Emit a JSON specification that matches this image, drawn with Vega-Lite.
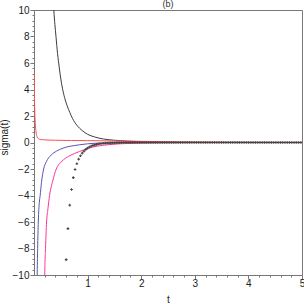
{
  "$schema": "https://vega.github.io/schema/vega-lite/v6.json",
  "width": 268,
  "height": 265,
  "autosize": "none",
  "padding": {"left": 34, "top": 10, "right": 2, "bottom": 29},
  "config": {"view": {"stroke": "#777", "strokeWidth": 1}, "font": "Liberation Sans"},
  "title": {"text": "(b)", "fontSize": 9, "fontWeight": "normal", "color": "#333", "offset": -11, "anchor": "middle", "baseline": "alphabetic"},
  "datasets": {
    "curves": [
      {"s": "A", "t": 0.35, "y": 11.8}, {"s": "A", "t": 0.37, "y": 10}, {"s": "A", "t": 0.39, "y": 8.9}, {"s": "A", "t": 0.41, "y": 8},
      {"s": "A", "t": 0.44, "y": 6.7}, {"s": "A", "t": 0.47, "y": 5.7}, {"s": "A", "t": 0.5, "y": 4.8}, {"s": "A", "t": 0.53, "y": 4.1},
      {"s": "A", "t": 0.57, "y": 3.4}, {"s": "A", "t": 0.62, "y": 2.75}, {"s": "A", "t": 0.67, "y": 2.25}, {"s": "A", "t": 0.72, "y": 1.8},
      {"s": "A", "t": 0.8, "y": 1.3}, {"s": "A", "t": 0.9, "y": 0.9}, {"s": "A", "t": 1.0, "y": 0.62}, {"s": "A", "t": 1.13, "y": 0.42},
      {"s": "A", "t": 1.3, "y": 0.26}, {"s": "A", "t": 1.5, "y": 0.17}, {"s": "A", "t": 1.75, "y": 0.1}, {"s": "A", "t": 2.0, "y": 0.06},
      {"s": "A", "t": 2.5, "y": 0.02}, {"s": "A", "t": 3.0, "y": 0.005}, {"s": "A", "t": 5.0, "y": 0},
      {"s": "B", "t": 0.004, "y": 5.2}, {"s": "B", "t": 0.007, "y": 4.0}, {"s": "B", "t": 0.01, "y": 3.2}, {"s": "B", "t": 0.014, "y": 2.5},
      {"s": "B", "t": 0.02, "y": 1.8}, {"s": "B", "t": 0.027, "y": 1.3}, {"s": "B", "t": 0.035, "y": 0.9}, {"s": "B", "t": 0.045, "y": 0.6},
      {"s": "B", "t": 0.06, "y": 0.4}, {"s": "B", "t": 0.08, "y": 0.3}, {"s": "B", "t": 0.12, "y": 0.23}, {"s": "B", "t": 0.2, "y": 0.2},
      {"s": "B", "t": 0.4, "y": 0.17}, {"s": "B", "t": 0.7, "y": 0.15}, {"s": "B", "t": 1.0, "y": 0.14}, {"s": "B", "t": 1.5, "y": 0.12},
      {"s": "B", "t": 2.0, "y": 0.09}, {"s": "B", "t": 2.5, "y": 0.06}, {"s": "B", "t": 3.0, "y": 0.04}, {"s": "B", "t": 4.0, "y": 0.02},
      {"s": "B", "t": 5.0, "y": 0.01},
      {"s": "C", "t": 0.058, "y": -11}, {"s": "C", "t": 0.06, "y": -10}, {"s": "C", "t": 0.068, "y": -8}, {"s": "C", "t": 0.08, "y": -6},
      {"s": "C", "t": 0.1, "y": -4.5}, {"s": "C", "t": 0.115, "y": -4}, {"s": "C", "t": 0.14, "y": -3}, {"s": "C", "t": 0.18, "y": -2},
      {"s": "C", "t": 0.23, "y": -1.45}, {"s": "C", "t": 0.32, "y": -0.95}, {"s": "C", "t": 0.42, "y": -0.65}, {"s": "C", "t": 0.54, "y": -0.43},
      {"s": "C", "t": 0.65, "y": -0.3}, {"s": "C", "t": 0.76, "y": -0.23}, {"s": "C", "t": 0.85, "y": -0.17}, {"s": "C", "t": 1.0, "y": -0.1},
      {"s": "C", "t": 1.13, "y": -0.06}, {"s": "C", "t": 1.4, "y": -0.03}, {"s": "C", "t": 2.0, "y": -0.01}, {"s": "C", "t": 3.0, "y": 0},
      {"s": "C", "t": 5.0, "y": 0},
      {"s": "D", "t": 0.198, "y": -11}, {"s": "D", "t": 0.2, "y": -10}, {"s": "D", "t": 0.215, "y": -8}, {"s": "D", "t": 0.235, "y": -6},
      {"s": "D", "t": 0.26, "y": -5}, {"s": "D", "t": 0.29, "y": -4}, {"s": "D", "t": 0.35, "y": -2.9}, {"s": "D", "t": 0.415, "y": -2},
      {"s": "D", "t": 0.5, "y": -1.5}, {"s": "D", "t": 0.6, "y": -1.15}, {"s": "D", "t": 0.69, "y": -0.95}, {"s": "D", "t": 0.76, "y": -0.82},
      {"s": "D", "t": 0.85, "y": -0.68}, {"s": "D", "t": 1.0, "y": -0.45}, {"s": "D", "t": 1.2, "y": -0.26}, {"s": "D", "t": 1.38, "y": -0.17},
      {"s": "D", "t": 1.6, "y": -0.1}, {"s": "D", "t": 1.9, "y": -0.05}, {"s": "D", "t": 2.25, "y": -0.02}, {"s": "D", "t": 3.0, "y": 0},
      {"s": "D", "t": 5.0, "y": 0}
    ],
    "dots": [
      {"t": 0.6, "y": -8.84}, {"t": 0.633, "y": -6.5}, {"t": 0.667, "y": -4.73}, {"t": 0.7, "y": -3.55}, {"t": 0.733, "y": -2.65},
      {"t": 0.767, "y": -2.04}, {"t": 0.8, "y": -1.6}, {"t": 0.833, "y": -1.26}, {"t": 0.867, "y": -1.0}, {"t": 0.9, "y": -0.8},
      {"t": 0.933, "y": -0.65}, {"t": 0.967, "y": -0.52}, {"t": 1.0, "y": -0.42}, {"t": 1.033, "y": -0.34}, {"t": 1.067, "y": -0.27},
      {"t": 1.1, "y": -0.22}, {"t": 1.133, "y": -0.18}, {"t": 1.167, "y": -0.14}, {"t": 1.2, "y": -0.11}, {"t": 1.233, "y": -0.09},
      {"t": 1.267, "y": -0.075}, {"t": 1.3, "y": -0.06}, {"t": 1.333, "y": -0.05}, {"t": 1.367, "y": -0.04}, {"t": 1.4, "y": -0.033},
      {"t": 1.433, "y": -0.027}, {"t": 1.467, "y": -0.022}, {"t": 1.5, "y": -0.018}, {"t": 1.533, "y": -0.014}, {"t": 1.567, "y": -0.011},
      {"t": 1.6, "y": -0.009}, {"t": 1.633, "y": 0}, {"t": 1.667, "y": 0}, {"t": 1.7, "y": 0}, {"t": 1.733, "y": 0},
      {"t": 1.767, "y": 0}, {"t": 1.8, "y": 0}, {"t": 1.833, "y": 0}, {"t": 1.867, "y": 0}, {"t": 1.9, "y": 0},
      {"t": 1.933, "y": 0}, {"t": 1.967, "y": 0}, {"t": 2.0, "y": 0}, {"t": 2.033, "y": 0}, {"t": 2.067, "y": 0},
      {"t": 2.1, "y": 0}, {"t": 2.133, "y": 0}, {"t": 2.167, "y": 0}, {"t": 2.2, "y": 0}, {"t": 2.233, "y": 0},
      {"t": 2.267, "y": 0}, {"t": 2.3, "y": 0}, {"t": 2.333, "y": 0}, {"t": 2.367, "y": 0}, {"t": 2.4, "y": 0},
      {"t": 2.433, "y": 0}, {"t": 2.467, "y": 0}, {"t": 2.5, "y": 0}, {"t": 2.533, "y": 0}, {"t": 2.567, "y": 0},
      {"t": 2.6, "y": 0}, {"t": 2.633, "y": 0}, {"t": 2.667, "y": 0}, {"t": 2.7, "y": 0}, {"t": 2.733, "y": 0},
      {"t": 2.767, "y": 0}, {"t": 2.8, "y": 0}, {"t": 2.833, "y": 0}, {"t": 2.867, "y": 0}, {"t": 2.9, "y": 0},
      {"t": 2.933, "y": 0}, {"t": 2.967, "y": 0}, {"t": 3.0, "y": 0}, {"t": 3.033, "y": 0}, {"t": 3.067, "y": 0},
      {"t": 3.1, "y": 0}, {"t": 3.133, "y": 0}, {"t": 3.167, "y": 0}, {"t": 3.2, "y": 0}, {"t": 3.233, "y": 0},
      {"t": 3.267, "y": 0}, {"t": 3.3, "y": 0}, {"t": 3.333, "y": 0}, {"t": 3.367, "y": 0}, {"t": 3.4, "y": 0},
      {"t": 3.433, "y": 0}, {"t": 3.467, "y": 0}, {"t": 3.5, "y": 0}, {"t": 3.533, "y": 0}, {"t": 3.567, "y": 0},
      {"t": 3.6, "y": 0}, {"t": 3.633, "y": 0}, {"t": 3.667, "y": 0}, {"t": 3.7, "y": 0}, {"t": 3.733, "y": 0},
      {"t": 3.767, "y": 0}, {"t": 3.8, "y": 0}, {"t": 3.833, "y": 0}, {"t": 3.867, "y": 0}, {"t": 3.9, "y": 0},
      {"t": 3.933, "y": 0}, {"t": 3.967, "y": 0}, {"t": 4.0, "y": 0}, {"t": 4.033, "y": 0}, {"t": 4.067, "y": 0},
      {"t": 4.1, "y": 0}, {"t": 4.133, "y": 0}, {"t": 4.167, "y": 0}, {"t": 4.2, "y": 0}, {"t": 4.233, "y": 0},
      {"t": 4.267, "y": 0}, {"t": 4.3, "y": 0}, {"t": 4.333, "y": 0}, {"t": 4.367, "y": 0}, {"t": 4.4, "y": 0},
      {"t": 4.433, "y": 0}, {"t": 4.467, "y": 0}, {"t": 4.5, "y": 0}, {"t": 4.533, "y": 0}, {"t": 4.567, "y": 0},
      {"t": 4.6, "y": 0}, {"t": 4.633, "y": 0}, {"t": 4.667, "y": 0}, {"t": 4.7, "y": 0}, {"t": 4.733, "y": 0},
      {"t": 4.767, "y": 0}, {"t": 4.8, "y": 0}, {"t": 4.833, "y": 0}, {"t": 4.867, "y": 0}, {"t": 4.9, "y": 0},
      {"t": 4.933, "y": 0}, {"t": 4.967, "y": 0}, {"t": 5.0, "y": 0}
    ]
  },
  "resolve": {"axis": {"x": "independent", "y": "independent"}},
  "layer": [
    {
      "data": {"name": "curves"},
      "mark": {"type": "line", "strokeWidth": 1, "clip": true, "interpolate": "monotone"},
      "encoding": {
        "x": {
          "field": "t", "type": "quantitative",
          "scale": {"domain": [0, 5], "nice": false, "zero": false},
          "axis": {
            "orient": "bottom",
            "values": [1, 2, 3, 4, 5],
            "format": "d",
            "tickSize": 4,
            "grid": false, "domainColor": "#777", "tickColor": "#777",
            "labelColor": "#222", "labelFontSize": 10, "labelPadding": -1,
            "labelFlush": false, "labelOverlap": false,
            "title": "t", "titleFontWeight": "normal", "titleFontSize": 10, "titleColor": "#222",
            "titleX": 134, "titleY": 27, "titleBaseline": "alphabetic", "titleAlign": "center"
          }
        },
        "y": {
          "field": "y", "type": "quantitative",
          "scale": {"domain": [-10, 10], "nice": false, "zero": false},
          "axis": {
            "orient": "left",
            "values": [-10, -8, -6, -4, -2, 0, 2, 4, 6, 8, 10],
            "format": "d",
            "tickSize": 4,
            "grid": false, "domainColor": "#777", "tickColor": "#777",
            "labelColor": "#222", "labelFontSize": 10, "labelPadding": 1,
            "labelFlush": false, "labelOverlap": false,
            "title": "sigma(t)", "titleFontWeight": "normal", "titleFontSize": 10, "titleColor": "#222",
            "titleX": -29.5, "titleY": 127, "titleBaseline": "middle", "titleAlign": "center", "titleAngle": -90
          }
        },
        "color": {"field": "s", "type": "nominal", "legend": null,
          "scale": {"domain": ["A", "B", "C", "D"], "range": ["#3c3c3c", "#ff4d4d", "#5555b0", "#ff3399"]}},
        "order": {"field": "t", "type": "quantitative"}
      }
    },
    {
      "data": {"name": "dots"},
      "mark": {"type": "point", "shape": "cross", "filled": true, "size": 7, "color": "#444", "opacity": 1, "clip": true},
      "encoding": {
        "x": {
          "field": "t", "type": "quantitative",
          "axis": {
            "orient": "bottom",
            "values": [0.2, 0.4, 0.6, 0.8, 1.2, 1.4, 1.6, 1.8, 2.2, 2.4, 2.6, 2.8, 3.2, 3.4, 3.6, 3.8, 4.2, 4.4, 4.6, 4.8],
            "tickCount": 100,
            "tickSize": 2, "labels": false, "domain": false, "grid": false, "tickColor": "#777", "title": null
          }
        },
        "y": {
          "field": "y", "type": "quantitative",
          "axis": {
            "orient": "left",
            "values": [-9.6, -9.2, -8.8, -8.4, -7.6, -7.2, -6.8, -6.4, -5.6, -5.2, -4.8, -4.4, -3.6, -3.2, -2.8, -2.4, -1.6, -1.2, -0.8, -0.4, 0.4, 0.8, 1.2, 1.6, 2.4, 2.8, 3.2, 3.6, 4.4, 4.8, 5.2, 5.6, 6.4, 6.8, 7.2, 7.6, 8.4, 8.8, 9.2, 9.6],
            "tickCount": 100,
            "tickSize": 2, "labels": false, "domain": false, "grid": false, "tickColor": "#777", "title": null
          }
        }
      }
    }
  ]
}
